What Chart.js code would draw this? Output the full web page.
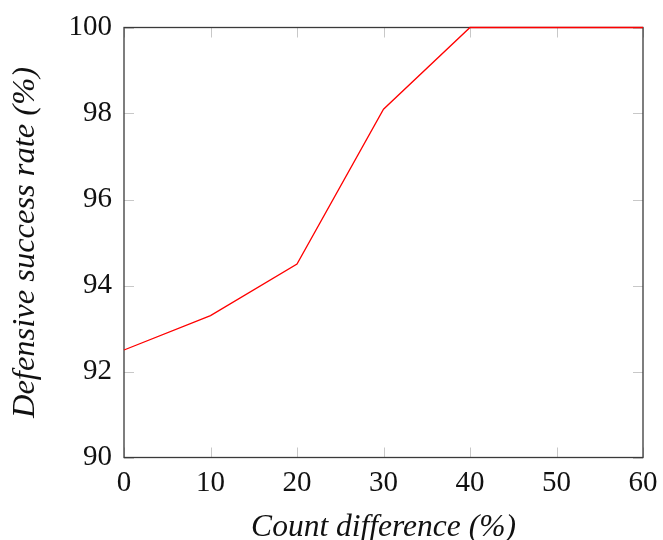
<!DOCTYPE html>
<html>
<head>
<meta charset="utf-8">
<script src="https://cdn.jsdelivr.net/npm/chart.js@4/dist/chart.umd.min.js"></script>
<style>
  html, body { margin: 0; padding: 0; background: #fff; }
  #c { display: block; }
</style>
</head>
<body>
<canvas id="c" width="663" height="540"></canvas>
<script>
// ---- data ----
const countDifference = [0, 10, 20, 30, 40, 50, 60];
const successRate = [92.5, 93.3, 94.5, 98.1, 100, 100, 100];
const xTickValues = [0, 10, 20, 30, 40, 50, 60];
const yTickValues = [90, 92, 94, 96, 98, 100];
const xTitle = 'Count difference (%)';
const yTitle = 'Defensive success rate (%)';

const points = countDifference.map((x, i) => ({ x: x, y: successRate[i] }));

const serif = "'Liberation Serif', 'DejaVu Serif', 'Times New Roman', serif";

function noAutoPad(s) {
  s.paddingLeft = 0; s.paddingRight = 0; s.paddingTop = 0; s.paddingBottom = 0;
}

const frameTicks = {
  id: 'frameTicks',
  beforeDatasetsDraw(chart) {
    const { ctx, chartArea: a, scales } = chart;
    const len = 10;
    ctx.save();
    ctx.strokeStyle = '#c8c8c8';
    ctx.lineWidth = 1;
    ctx.beginPath();
    xTickValues.forEach(v => {
      const px = Math.round(scales.x.getPixelForValue(v)) + 0.5;
      ctx.moveTo(px, a.bottom); ctx.lineTo(px, a.bottom - len);
      ctx.moveTo(px, a.top); ctx.lineTo(px, a.top + len);
    });
    yTickValues.forEach(v => {
      const py = Math.round(scales.y.getPixelForValue(v)) + 0.5;
      ctx.moveTo(a.left, py); ctx.lineTo(a.left + len, py);
      ctx.moveTo(a.right, py); ctx.lineTo(a.right - len, py);
    });
    ctx.stroke();
    ctx.strokeStyle = '#3a3a3a';
    ctx.lineWidth = 1.3;
    ctx.strokeRect(a.left, a.top, a.right - a.left, a.bottom - a.top);
    ctx.restore();
  }
};

new Chart(document.getElementById('c'), {
  type: 'line',
  data: {
    datasets: [{
      data: points,
      borderColor: '#ff0000',
      borderWidth: 1.3,
      pointRadius: 0,
      fill: false,
      tension: 0,
      clip: 4
    }]
  },
  options: {
    responsive: false,
    animation: false,
    devicePixelRatio: 1,
    layout: { padding: { top: 27.5, right: 20, left: 0, bottom: 0 } },
    plugins: { legend: { display: false }, tooltip: { enabled: false } },
    scales: {
      x: {
        type: 'linear',
        min: 0, max: 60,
        afterFit: s => { s.height = 82.5; noAutoPad(s); },
        afterBuildTicks: s => { s.ticks = xTickValues.map(v => ({ value: v })); },
        grid: { display: false, drawTicks: false },
        border: { display: false },
        ticks: {
          color: '#111',
          font: { family: serif, size: 29 },
          padding: 8,
          maxRotation: 0,
          autoSkip: false
        },
        title: {
          display: true,
          text: xTitle,
          color: '#111',
          font: { family: serif, size: 31.5, style: 'italic', lineHeight: 0.76 },
          padding: { top: 0, bottom: 0 }
        }
      },
      y: {
        type: 'linear',
        min: 90, max: 100,
        afterFit: s => { s.width = 124; noAutoPad(s); },
        afterBuildTicks: s => { s.ticks = yTickValues.map(v => ({ value: v })); },
        grid: { display: false, drawTicks: false },
        border: { display: false },
        ticks: {
          color: '#111',
          font: { family: serif, size: 29 },
          padding: 12,
          autoSkip: false
        },
        title: {
          display: true,
          text: yTitle,
          color: '#111',
          font: { family: serif, size: 32.5, style: 'italic', lineHeight: 0.76 },
          padding: { top: 13, bottom: 0 }
        }
      }
    }
  },
  plugins: [frameTicks]
});
</script>
</body>
</html>
